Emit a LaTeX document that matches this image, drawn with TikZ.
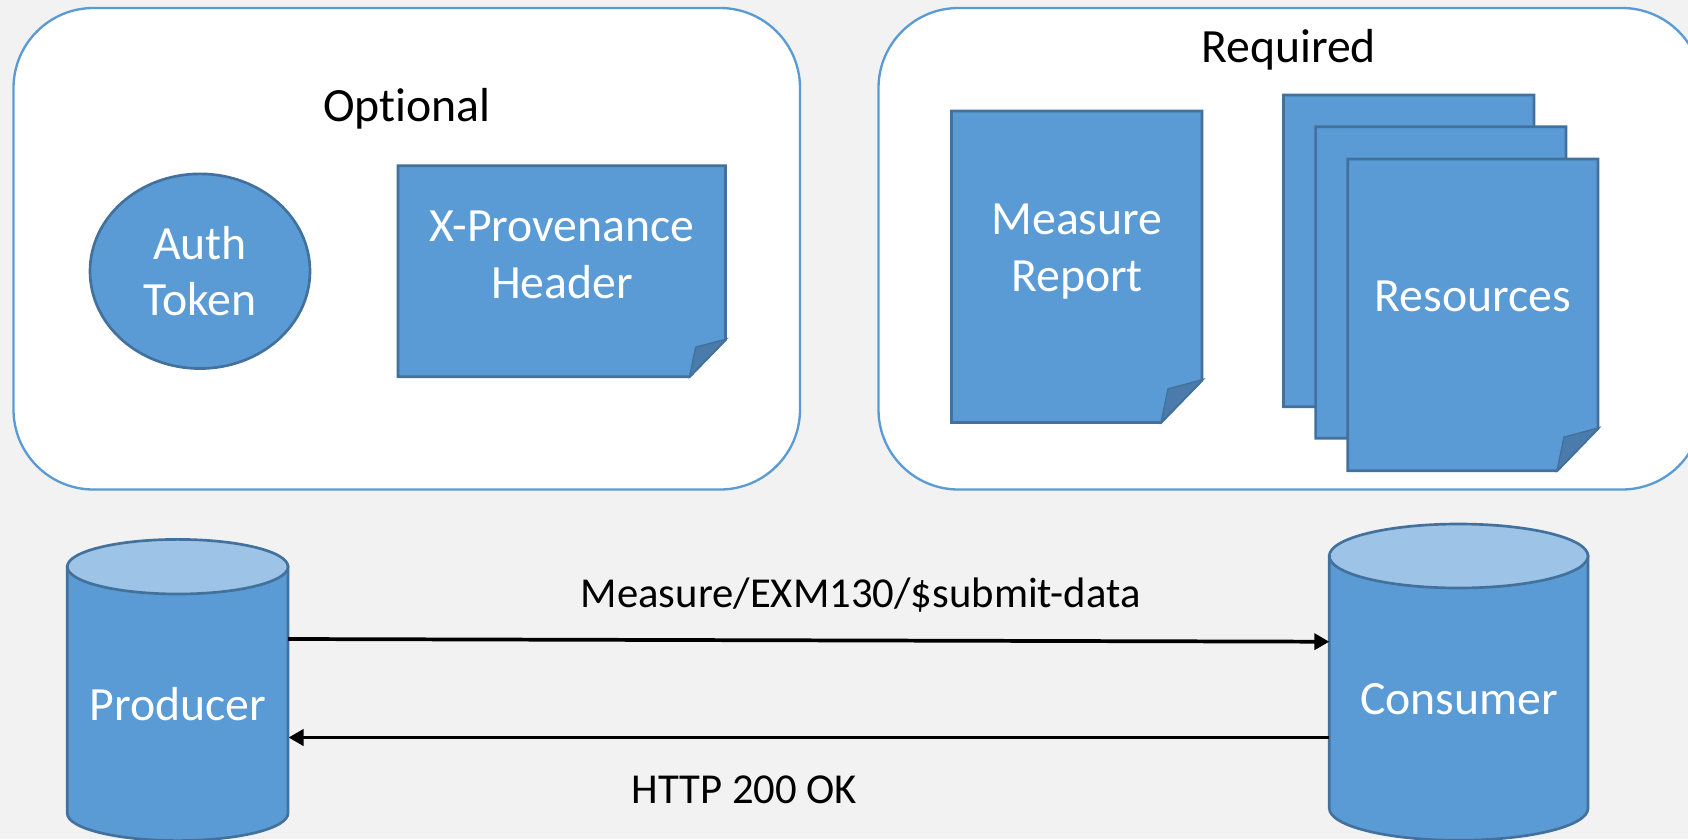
\documentclass[tikz,border=0pt]{standalone}
\usepackage{fontspec}
\setmainfont[Ligatures=NoCommon]{Carlito}
\usetikzlibrary{arrows.meta,shapes.geometric}
\definecolor{bg}{HTML}{F2F2F2}
\definecolor{blue1}{HTML}{5B9BD5}
\definecolor{blue2}{HTML}{41719C}
\definecolor{blue3}{HTML}{9DC3E6}
\definecolor{foldc}{HTML}{4A7BAA}
\tikzset{
 panel/.style={draw=blue1,fill=white,line width=1.75pt,rounded corners=60pt},
 shapeline/.style={draw=blue2,line width=2pt},
 shapefill/.style={shapeline,fill=blue1},
 wtext/.style={text=white,font=\fontsize{35.8pt}{43pt}\selectfont,anchor=base,inner sep=0pt},
 btext/.style={text=black,font=\fontsize{35.8pt}{43pt}\selectfont,anchor=base,inner sep=0pt},
 ltext/.style={text=black,font=\fontsize{32pt}{38pt}\selectfont,anchor=base,inner sep=0pt},
 arrowline/.style={draw=black,line width=2.8pt,-{Triangle[length=11.25pt,width=12pt]}}
}
% x1 y1 x2 y2 foldsize
\newcommand{\curlpage}[5]{%
 \path[shapefill] (#1,#2) -- (#3,#2) -- (#3,#4-1.03*#5) -- (#3-#5,#4) -- (#1,#4) -- cycle;
 \path[draw=blue2,fill=foldc,line width=1pt] (#3+0.03*#5,#4-1.05*#5) -- (#3-0.83*#5,#4-0.82*#5) -- (#3-#5,#4) -- cycle;
}
% x1 x2 top-centre-y bottom-centre-y ry
\newcommand{\drum}[5]{%
 \path[shapefill] (#1,#3) -- (#1,#4) arc[x radius={(#2-#1)/2},y radius=#5,start angle=180,end angle=0] -- (#2,#3) -- cycle;
 \path[shapeline,fill=blue3] ({(#1+#2)/2},#3) ellipse[x radius={(#2-#1)/2},y radius=#5];
}
\begin{document}
\begin{tikzpicture}[x=0.75pt,y=-0.75pt]
\useasboundingbox (0,0) rectangle (1688,839);
\begin{scope}
\clip (0,0) rectangle (1688,839);
\fill[bg] (0,0) rectangle (1688,839);
\draw[panel] (13.5,8) rectangle (800,489.5);
\draw[panel] (878.5,8) rectangle (1702,489.5);
\node[btext] (optional) at (407,121.7) {Optional};
\node[btext] (required) at (1288.5,62.7) {Required};
\node[shapefill,ellipse,inner sep=0pt,minimum width=165pt,minimum height=146pt] (auth) at (200,271.2) {};
\node[wtext] (authA) at (200,259) {Auth};
\node[wtext] (authB) at (200,315.3) {Token};
\curlpage{398}{165.7}{725.5}{376.7}{36}
\node[wtext] (xprovA) at (562,241.7) {X-Provenance};
\node[wtext] (xprovB) at (562,298.5) {Header};
\curlpage{951.5}{111}{1202}{422.5}{41}
\node[wtext] (mrA) at (1077,234) {Measure};
\node[wtext] (mrB) at (1077,291.3) {Report};
\curlpage{1283.5}{95}{1534}{406.7}{41}
\curlpage{1315.6}{126.7}{1566}{438.3}{41}
\curlpage{1347.7}{159}{1598}{470.7}{41}
\node[wtext] (resources) at (1473,311) {Resources};
\drum{67.3}{288}{566.7}{813.3}{27.3}
\drum{1329.3}{1588}{556}{808.3}{32}
\node[wtext] (producer) at (178,720) {Producer};
\node[wtext] (consumer) at (1459,714) {Consumer};
\coordinate (prodOut) at (288,639);
\coordinate (consIn) at (1329.3,641.7);
\coordinate (consOut) at (1329.3,737.5);
\coordinate (prodIn) at (288.5,737.5);
\draw[arrowline] (prodOut) -- (consIn);
\draw[arrowline] (consOut) -- (prodIn);
\node[ltext] (submit) at (860.7,607.5) {Measure/EXM130/\$submit-data};
\node[ltext] (ok) at (744.4,803) {HTTP 200 OK};
\end{scope}
\end{tikzpicture}
\end{document}
